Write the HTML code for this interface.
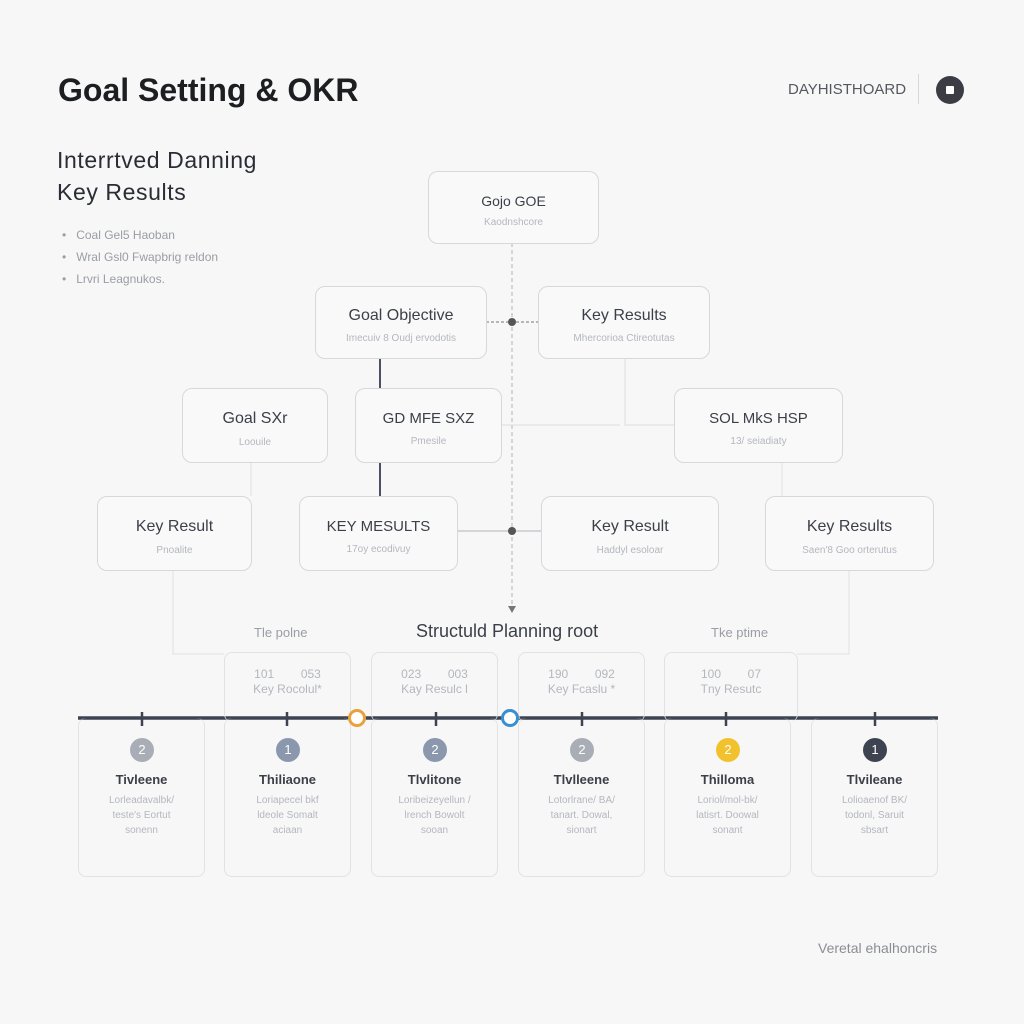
<!DOCTYPE html>
<html><head><meta charset="utf-8"><style>
body{margin:0;width:1024px;height:1024px;background:#f7f7f8;font-family:"Liberation Sans",sans-serif;position:relative;overflow:hidden}
.a{position:absolute}
.box{position:absolute;border:1.5px solid #d6d8dc;border-radius:10px;background:#f9f9fa;box-sizing:border-box;text-align:center}
.t{font-size:16px;color:#3b3f47}
.s{font-size:10px;color:#b4b7bd}
.card{position:absolute;border:1.5px solid #e0e2e5;border-radius:8px;box-sizing:border-box;text-align:center}
.num{position:absolute;width:24px;height:24px;border-radius:50%;color:#fff;font-size:13px;line-height:24px;text-align:center}
.ct{font-size:13px;font-weight:bold;color:#3b3f47}
.cs{font-size:10px;color:#b4b7bd;line-height:15px}
</style></head><body>
<div class="a" style="left:58px;top:72px;font-size:32px;font-weight:bold;color:#1c1e22">Goal Setting &amp; OKR</div>
<div class="a" style="left:788px;top:81px;font-size:15px;color:#55585e">DAYHISTHOARD</div>
<div class="a" style="left:918px;top:74px;width:1px;height:30px;background:#d6d8dc"></div>
<div class="a" style="left:936px;top:76px;width:28px;height:28px;border-radius:50%;background:#3a3d44"></div>
<div class="a" style="left:946px;top:86px;width:8px;height:8px;background:#fff;border-radius:1px"></div>
<div class="a" style="left:57px;top:144px;font-size:23px;letter-spacing:0.6px;color:#2a2d33;line-height:32px">Interrtved Danning<br>Key Results</div>
<div class="a" style="left:62px;top:224px;font-size:12px;color:#9a9da3;line-height:22px">•&nbsp;&nbsp; Coal Gel5 Haoban<br>•&nbsp;&nbsp; Wral Gsl0 Fwapbrig reldon<br>•&nbsp;&nbsp; Lrvri Leagnukos.</div>
<svg class="a" style="left:0;top:0" width="1024" height="1024">
<g fill="none">
<line x1="512" y1="243" x2="512" y2="608" stroke="#b0b3b8" stroke-dasharray="4,3"/>
<path d="M508 606 L512 613 L516 606Z" fill="#777"/>
<line x1="486" y1="322" x2="538" y2="322" stroke="#777" stroke-dasharray="3,2"/>
<line x1="380" y1="358" x2="380" y2="388" stroke="#4a5160" stroke-width="2"/>
<line x1="380" y1="462" x2="380" y2="496" stroke="#4a5160" stroke-width="2"/>
<polyline points="625,358 625,425 674,425" stroke="#dcdee1"/>
<line x1="501" y1="425" x2="620" y2="425" stroke="#dcdee1"/>
<line x1="457" y1="531" x2="541" y2="531" stroke="#c8cace" stroke-width="1.5"/>
<line x1="251" y1="462" x2="251" y2="496" stroke="#e0e2e5"/>
<line x1="782" y1="462" x2="782" y2="496" stroke="#e0e2e5"/>
<polyline points="173,570 173,654 224,654" stroke="#e0e2e5"/>
<polyline points="849,570 849,654 797,654" stroke="#e0e2e5"/>
<line x1="78" y1="718" x2="938" y2="718" stroke="#3d4350" stroke-width="3.5"/>
<g stroke="#3d4350" stroke-width="2.5"><line x1="142" y1="712" x2="142" y2="726"/><line x1="287" y1="712" x2="287" y2="726"/><line x1="436" y1="712" x2="436" y2="726"/><line x1="582" y1="712" x2="582" y2="726"/><line x1="726" y1="712" x2="726" y2="726"/><line x1="875" y1="712" x2="875" y2="726"/></g>
</g>
<circle cx="512" cy="322" r="4" fill="#555"/>
<circle cx="512" cy="531" r="4" fill="#555"/>
</svg>
<div class="box" style="left:428px;top:171px;width:171px;height:73px"><div class="t" style="margin-top:21px;font-size:14px">Gojo GOE</div><div class="s" style="margin-top:8px">Kaodnshcore</div></div>
<div class="box" style="left:315px;top:286px;width:172px;height:73px"><div class="t" style="margin-top:20px">Goal Objective</div><div class="s" style="margin-top:8px">Imecuiv 8 Oudj ervodotis</div></div>
<div class="box" style="left:538px;top:286px;width:172px;height:73px"><div class="t" style="margin-top:20px">Key Results</div><div class="s" style="margin-top:8px">Mhercorioa Ctireotutas</div></div>
<div class="box" style="left:182px;top:388px;width:146px;height:75px"><div class="t" style="margin-top:21px">Goal SXr</div><div class="s" style="margin-top:9px">Loouile</div></div>
<div class="box" style="left:355px;top:388px;width:147px;height:75px"><div class="t" style="margin-top:21px;font-size:15px">GD MFE SXZ</div><div class="s" style="margin-top:9px">Pmesile</div></div>
<div class="box" style="left:674px;top:388px;width:169px;height:75px"><div class="t" style="margin-top:21px;font-size:15px">SOL MkS HSP</div><div class="s" style="margin-top:9px">13/ seiadiaty</div></div>
<div class="box" style="left:97px;top:496px;width:155px;height:75px"><div class="t" style="margin-top:21px">Key Result</div><div class="s" style="margin-top:9px">Pnoalite</div></div>
<div class="box" style="left:299px;top:496px;width:159px;height:75px"><div class="t" style="margin-top:21px;font-size:15px">KEY MESULTS</div><div class="s" style="margin-top:9px">17oy ecodivuy</div></div>
<div class="box" style="left:541px;top:496px;width:178px;height:75px"><div class="t" style="margin-top:21px">Key Result</div><div class="s" style="margin-top:9px">Haddyl esoloar</div></div>
<div class="box" style="left:765px;top:496px;width:169px;height:75px"><div class="t" style="margin-top:21px">Key Results</div><div class="s" style="margin-top:9px">Saen'8 Goo orterutus</div></div>
<div class="a" style="left:254px;top:625px;font-size:13px;color:#9a9da3">Tle polne</div>
<div class="a" style="left:416px;top:621px;font-size:18px;color:#3b3f47">Structuld Planning root</div>
<div class="a" style="left:711px;top:625px;font-size:13px;color:#9a9da3">Tke ptime</div>
<div class="card" style="left:224px;top:652px;width:127px;height:70px;border-bottom:none"><div class="cs" style="margin-top:14px;font-size:12px">101 &nbsp;&nbsp;&nbsp;&nbsp;&nbsp;&nbsp; 053<br>Key Rocolul*</div></div>
<div class="card" style="left:371px;top:652px;width:127px;height:70px;border-bottom:none"><div class="cs" style="margin-top:14px;font-size:12px">023 &nbsp;&nbsp;&nbsp;&nbsp;&nbsp;&nbsp; 003<br>Kay Resulc l</div></div>
<div class="card" style="left:518px;top:652px;width:127px;height:70px;border-bottom:none"><div class="cs" style="margin-top:14px;font-size:12px">190 &nbsp;&nbsp;&nbsp;&nbsp;&nbsp;&nbsp; 092<br>Key Fcaslu *</div></div>
<div class="card" style="left:664px;top:652px;width:134px;height:70px;border-bottom:none"><div class="cs" style="margin-top:14px;font-size:12px">100 &nbsp;&nbsp;&nbsp;&nbsp;&nbsp;&nbsp; 07<br>Tny Resutc</div></div>
<div class="card" style="left:78px;top:718px;width:127px;height:159px;border-top:none"><div class="num" style="left:51px;top:20px;background:#a9adb5">2</div><div class="ct" style="margin-top:54px">Tivleene</div><div class="cs" style="margin-top:6px">Lorleadavalbk/<br>teste's Eortut<br>sonenn</div></div>
<div class="card" style="left:224px;top:718px;width:127px;height:159px;border-top:none"><div class="num" style="left:51px;top:20px;background:#8a97ad">1</div><div class="ct" style="margin-top:54px">Thiliaone</div><div class="cs" style="margin-top:6px">Loriapecel bkf<br>ldeole Somalt<br>aciaan</div></div>
<div class="card" style="left:371px;top:718px;width:127px;height:159px;border-top:none"><div class="num" style="left:51px;top:20px;background:#8a97ad">2</div><div class="ct" style="margin-top:54px">Tlvlitone</div><div class="cs" style="margin-top:6px">Loribeizeyellun /<br>lrench Bowolt<br>sooan</div></div>
<div class="card" style="left:518px;top:718px;width:127px;height:159px;border-top:none"><div class="num" style="left:51px;top:20px;background:#a9adb5">2</div><div class="ct" style="margin-top:54px">Tlvlleene</div><div class="cs" style="margin-top:6px">Lotorlrane/ BA/<br>tanart. Dowal,<br>sionart</div></div>
<div class="card" style="left:664px;top:718px;width:127px;height:159px;border-top:none"><div class="num" style="left:51px;top:20px;background:#f2c12e">2</div><div class="ct" style="margin-top:54px">Thilloma</div><div class="cs" style="margin-top:6px">Loriol/mol-bk/<br>latisrt. Doowal<br>sonant</div></div>
<div class="card" style="left:811px;top:718px;width:127px;height:159px;border-top:none"><div class="num" style="left:51px;top:20px;background:#3d4350">1</div><div class="ct" style="margin-top:54px">Tlvileane</div><div class="cs" style="margin-top:6px">Lolioaenof BK/<br>todonl, Saruit<br>sbsart</div></div>
<div class="a" style="left:348px;top:709px;width:12px;height:12px;border-radius:50%;border:3.5px solid #e9a23b;background:#fff"></div>
<div class="a" style="left:501px;top:709px;width:12px;height:12px;border-radius:50%;border:3.5px solid #3a8fd0;background:#fff"></div>
<div class="a" style="left:818px;top:940px;font-size:14px;color:#8a8d93">Veretal ehalhoncris</div>
</body></html>
